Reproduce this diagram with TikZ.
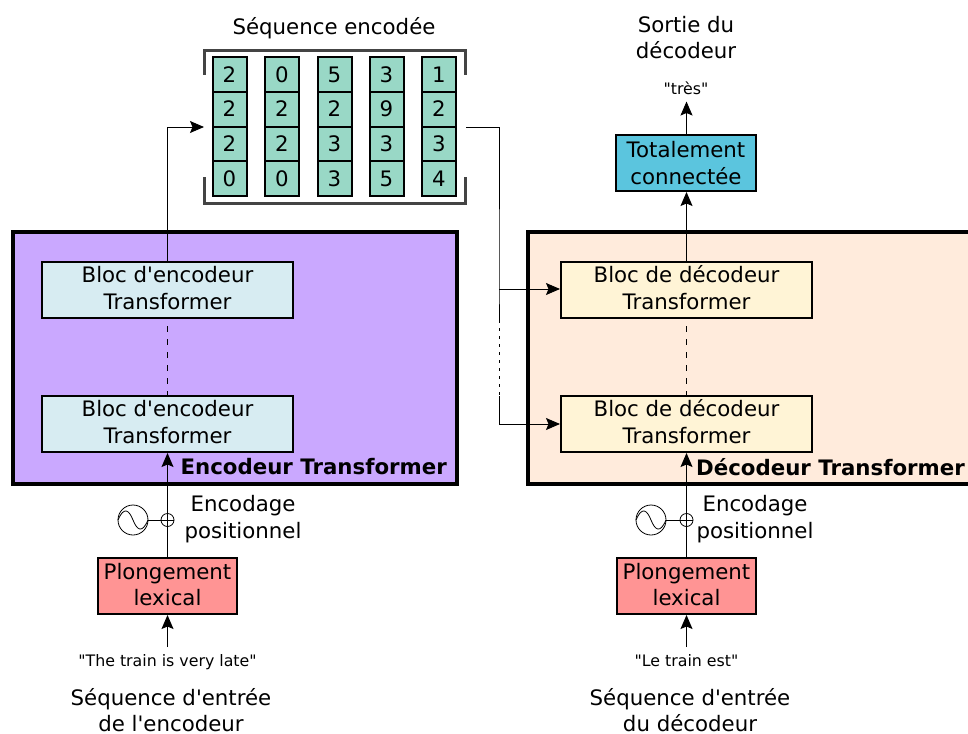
\documentclass[tikz,border=0pt]{standalone}
\usepackage{fontspec}
\newfontfamily\djv{DejaVu Sans}
\usetikzlibrary{arrows.meta}
\tikzset{
  px/.style={x=1pt,y=-1pt},
  plain/.style={inner sep=0pt,align=center,font=\djv\fontsize{21.3}{26.7}\selectfont},
  free/.style={plain,anchor=base},
  strutted/.style 2 args={plain,execute at begin node={\vrule width 0pt height #1 depth #2\relax}},
  boxed/.style={draw=black,line width=2pt,minimum height=56pt,anchor=center},
  blockbox/.style={strutted={46pt}{7.4pt},boxed,minimum width=251pt},
  encblock/.style={blockbox,fill=encfill},
  decblock/.style={blockbox,fill=decfill},
  embed/.style={strutted={46pt}{6.6pt},boxed,minimum width=139pt,fill=embedfill},
  fcbox/.style={strutted={46pt}{4pt},boxed,minimum width=140pt,fill=fcfill},
  stack/.style={line width=4pt,draw=black,inner sep=0pt,minimum height=252pt,anchor=north west},
  cell/.style={strutted={20pt}{4.8pt},draw=black,line width=2pt,fill=cellfill,minimum width=34pt,minimum height=34.7pt},
  conn/.style={draw=black,line width=1pt},
  arr/.style={conn,-{Stealth[length=14pt,width=12pt,inset=2.5pt]}},
  tiny/.style={inner sep=0pt,anchor=base,font=\djv\fontsize{15.8}{20}\selectfont},
  bold/.style={inner sep=0pt,font=\djv\fontsize{21.3}{27}\selectfont\bfseries},
  frameline/.style={draw=framegray,line width=3pt},
  wave/.style={draw=black,line width=0.8pt,fill=white},
}
\definecolor{encfill}{HTML}{D7ECF2}
\definecolor{decfill}{HTML}{FFF4D6}
\definecolor{embedfill}{HTML}{FF9494}
\definecolor{fcfill}{HTML}{5BC5DE}
\definecolor{cellfill}{HTML}{99D8C6}
\definecolor{purplefill}{HTML}{CAA8FF}
\definecolor{peachfill}{HTML}{FFEBDC}
\definecolor{framegray}{HTML}{444444}
\begin{document}
\begin{tikzpicture}[px]
\useasboundingbox (0,0) rectangle (968,733);
\clip (0,0) rectangle (968,733);
% stacks
\node[stack,fill=purplefill,minimum width=444pt] (encstack) at (11,230) {};
\node[stack,fill=peachfill,minimum width=460pt] (decstack) at (526,230) {};
\node[bold,anchor=base east] (enclabel) at (447,474) {Encodeur Transformer};
\node[bold,anchor=base west] (declabel) at (696,475) {Décodeur Transformer};
% blocks
\node[encblock] (e2) at (167.5,290) {Bloc d'encodeur\\Transformer};
\node[encblock] (e1) at (167.5,424) {Bloc d'encodeur\\Transformer};
\node[decblock] (d2) at (686.5,290) {Bloc de décodeur\\Transformer};
\node[decblock] (d1) at (686.5,424) {Bloc de décodeur\\Transformer};
\node[embed] (emb1) at (167.5,586) {Plongement\\lexical};
\node[embed] (emb2) at (686.5,586) {Plongement\\lexical};
\node[fcbox] (fc) at (686,163) {Totalement\\connectée};
% encoded matrix
\foreach \c/\x/\a/\b/\cc/\d in {1/229.5/2/2/2/0,2/282/0/2/2/0,3/334.5/5/2/3/3,4/386.5/3/9/3/5,5/439/1/2/3/4}{
  \node[cell] (m\c a) at (\x,74.7) {\a};
  \node[cell] (m\c b) at (\x,109.4) {\b};
  \node[cell] (m\c c) at (\x,144.1) {\cc};
  \node[cell] (m\c d) at (\x,178.8) {\d};
}
\coordinate (fl) at (204,127);
\coordinate (fr) at (466,127);
\draw[frameline,line cap=butt] (204,75) -- (204,51) -- (465,51) -- (465,75);
\draw[frameline,line cap=butt] (204,177) -- (204,203) -- (465,203) -- (465,177);
% texts
\node[free] (t1) at (334,34.5) {Séquence encodée};
\node[free] (t2) at (686,59) {Sortie du\\décodeur};
\node[tiny] (tres) at (686,95) {"très"};
\node[tiny] (in1) at (167.5,666) {"The train is very late"};
\node[tiny] (in2) at (686.5,666) {"Le train est"};
\node[free] (s1) at (171,731.7) {Séquence d'entrée\\de l'encodeur};
\node[free] (s2) at (690,731.7) {Séquence d'entrée\\du décodeur};
\node[free] (p1) at (243,538.3) {Encodage\\positionnel};
\node[free] (p2) at (755,538.3) {Encodage\\positionnel};
% connectors
\draw[arr] (e2.north) |- (fl);
\draw[conn,line width=1.5pt,dash pattern=on 6pt off 7pt] (e2.south) ++(0,7) -- (e1.north);
\draw[conn,line width=1.5pt,dash pattern=on 6pt off 7pt] (d2.south) ++(0,7) -- (d1.north);
\draw[arr] (d2.north) -- (d2.north|-fc.south);
\draw[arr] (d2.north|-fc.north) -- ++(0,-32.5);
\coordinate (bus) at (499,127);
\coordinate (busa) at (499,289);
\coordinate (busb) at (499,320);
\coordinate (busc) at (499,396);
\coordinate (busd) at (499,424);
\draw[conn] (fr) -- (bus) -- (busa) -- (busb);
\draw[conn,dash pattern=on 3pt off 5pt] (busb) -- (busc);
\draw[conn] (busc) -- (busd);
\draw[arr] (busa) -- (d2.west|-busa);
\draw[arr] (busd) -- (d1.west);
\draw[arr] (emb1.north) -- (e1.south);
\draw[arr] (emb2.north) -- (d1.south);
\coordinate (ia) at (167.5,647);
\coordinate (ib) at (686.5,647);
\draw[arr] (ia) -- (emb1.south);
\draw[arr] (ib) -- (emb2.south);
% positional encoding symbols
\foreach \n/\cx/\xx in {a/133/167.5,b/651/686.5}{
  \node[circle,wave,minimum size=30pt,inner sep=0pt] (sin\n) at (\cx,520) {};
  \node[circle,draw=black,line width=0.8pt,minimum size=13pt,inner sep=0pt] (xor\n) at (\xx,520) {};
  \draw[conn,line width=0.8pt] (sin\n.east) -- (xor\n.west);
  \draw[conn,line width=0.8pt] (xor\n.west) -- (xor\n.east);
  \draw[line width=0.8pt] (\cx-15,520) .. controls (\cx-9,506) and (\cx-4,510) .. (\cx,520) .. controls (\cx+4,530) and (\cx+9,534) .. (\cx+15,520);
}
\end{tikzpicture}
\end{document}
